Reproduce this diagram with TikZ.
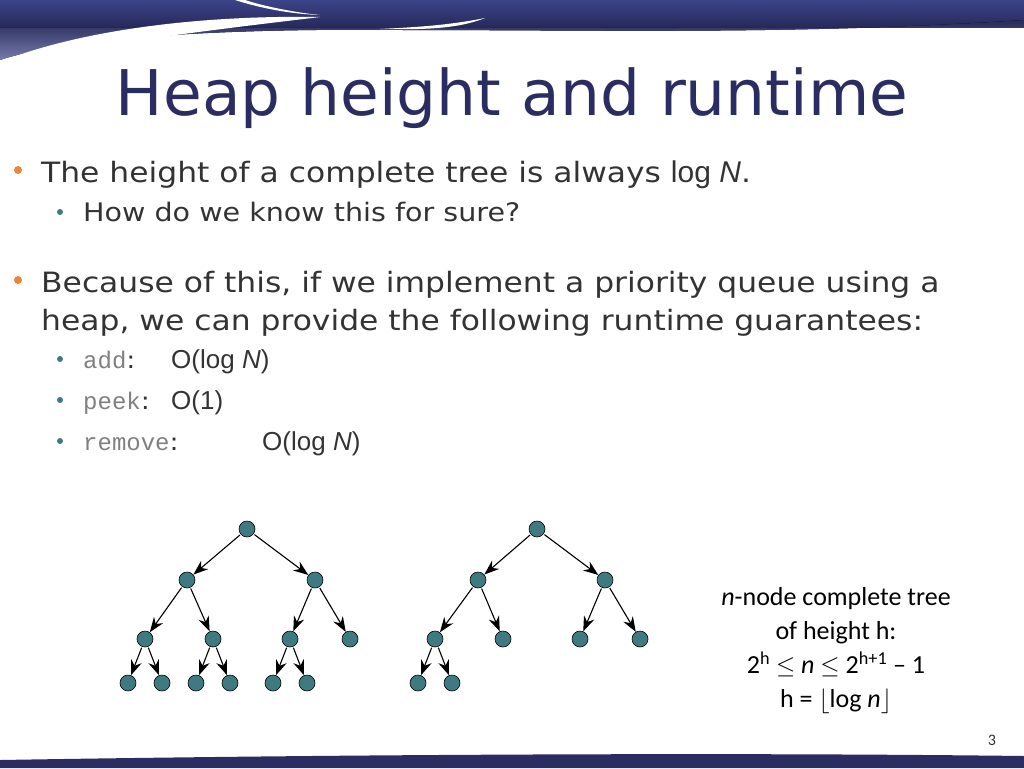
\documentclass[tikz,border=0pt]{standalone}
\usepackage{fontspec}
\setmainfont[FakeStretch=1.12]{DejaVu Sans}
\newfontfamily\titlefont{DejaVu Sans}
\newfontfamily\arialfont{Liberation Sans}
\newfontfamily\courfont{Liberation Mono}
\newfontfamily\calfont{Carlito}
\usetikzlibrary{arrows.meta, positioning, calc}
\definecolor{navy}{HTML}{2B2D62}
\definecolor{banner}{HTML}{3B4488}
\definecolor{teal}{HTML}{3F7A80}
\definecolor{bodytxt}{HTML}{333333}
\definecolor{orng}{HTML}{E8873A}
\tikzset{
  hnode/.style={circle, fill=teal, draw=black, line width=0.6pt, inner sep=0pt, minimum size=16pt},
  harrow/.style={-{Stealth[length=15pt,width=11pt]}, line width=1.1pt, shorten <=1pt, shorten >=0pt},
  txt/.style={anchor=base west, inner sep=0pt, text=bodytxt}
}
\begin{document}
\begin{tikzpicture}[x=1pt, y=-1pt]
  \useasboundingbox (0,0) rectangle (1024,768);

  % top banner
  \fill[top color=banner, bottom color=navy!90!black] (0,0) rectangle (1024,28);
  \fill[top color=navy!90!black, bottom color=banner!70] (0,28) -- (1024,28) -- (1024,20)
    .. controls (800,35) and (600,30) .. (400,30) .. controls (200,28) and (60,40) .. (0,60) -- cycle;
  \fill[white] (0,62) .. controls (80,30) and (200,15) .. (320,17) .. controls (280,22) and (120,40) .. (0,62);
  \fill[white] (235,0) .. controls (260,8) and (290,14) .. (320,15) .. controls (290,12) and (260,5) .. (245,0) -- cycle;
  \fill[white] (380,29) .. controls (430,30) and (460,28) .. (485,18) .. controls (450,25) and (420,27) .. (380,29);

  % title
  \node[anchor=base, text=navy, font=\titlefont\fontsize{63}{70}\selectfont] (title) at (512,115) {Heap height and runtime};

  % bullets
  \fill[orng] (18,170) circle (4);
  \node[txt, font=\fontsize{28}{32}\selectfont] (b1) at (41,182) {The height of a complete tree is always {\arialfont\fontsize{30}{32}\selectfont log \textit{N}}.};
  \fill[teal] (60,212) circle (3);
  \node[txt, font=\fontsize{25.5}{28}\selectfont] (b1a) at (83,221) {How do we know this for sure?};

  \fill[orng] (18,280) circle (4);
  \node[txt, font=\fontsize{28}{32}\selectfont] (b2) at (41,292) {Because of this, if we implement a priority queue using a};
  \node[txt, font=\fontsize{28}{32}\selectfont] (b2b) at (41,330) {heap, we can provide the following runtime guarantees:};
  \foreach \yy/\op in {368/add, 409/peek, 450/remove}{
    \fill[teal] (60,\yy-9) circle (3);
    \node[txt, font=\fontsize{24}{28}\selectfont] at (83,\yy) {{\courfont\color{gray}\op}:};
  }
  \node[txt, font=\arialfont\fontsize{26}{30}\selectfont] (c1) at (171,368) {O(log \textit{N})};
  \node[txt, font=\arialfont\fontsize{26}{30}\selectfont] (c2) at (171,409) {O(1)};
  \node[txt, font=\arialfont\fontsize{26}{30}\selectfont] (c3) at (262,450) {O(log \textit{N})};

  % first tree
  \node[hnode] (r) at (247,529) {};
  \node[hnode] (a) at (187,580) {};
  \node[hnode] (b) at (315,580) {};
  \node[hnode] (aa) at (145,639) {};
  \node[hnode] (ab) at (213,639) {};
  \node[hnode] (ba) at (290,639) {};
  \node[hnode] (bb) at (350,639) {};
  \node[hnode] (aaa) at (128,683) {};
  \node[hnode] (aab) at (162,683) {};
  \node[hnode] (aba) at (196,683) {};
  \node[hnode] (abb) at (230,683) {};
  \node[hnode] (baa) at (273,683) {};
  \node[hnode] (bab) at (307,683) {};
  \foreach \p/\c in {r/a, r/b, a/aa, a/ab, b/ba, b/bb, aa/aaa, aa/aab, ab/aba, ab/abb, ba/baa, ba/bab}
    \draw[harrow] (\p) -- (\c);

  % second tree
  \node[hnode] (s) at (537,529) {};
  \node[hnode] (c) at (478,580) {};
  \node[hnode] (d) at (605,580) {};
  \node[hnode] (ca) at (435,639) {};
  \node[hnode] (cb) at (503,639) {};
  \node[hnode] (da) at (580,639) {};
  \node[hnode] (db) at (640,639) {};
  \node[hnode] (caa) at (418,683) {};
  \node[hnode] (cab) at (452,683) {};
  \foreach \p/\c in {s/c, s/d, c/ca, c/cb, d/da, d/db, ca/caa, ca/cab}
    \draw[harrow] (\p) -- (\c);

  % note
  \node[align=center, font=\calfont\fontsize{26}{34}\selectfont, anchor=north] (note) at (836,584)
    {\textit{n}-node complete tree\\ of height h:\\ 2\textsuperscript{h} $\le$ \textit{n} $\le$ 2\textsuperscript{h+1} \textendash{} 1\\ h = $\lfloor$log \textit{n}$\rfloor$};

  % page number and bottom banner
  \node[font=\calfont\fontsize{16}{18}\selectfont, text=bodytxt] (pg) at (992,740) {3};
  \fill[navy] (0,768) -- (0,760) .. controls (300,755) and (700,752) .. (1024,756) -- (1024,768) -- cycle;
\end{tikzpicture}
\end{document}
